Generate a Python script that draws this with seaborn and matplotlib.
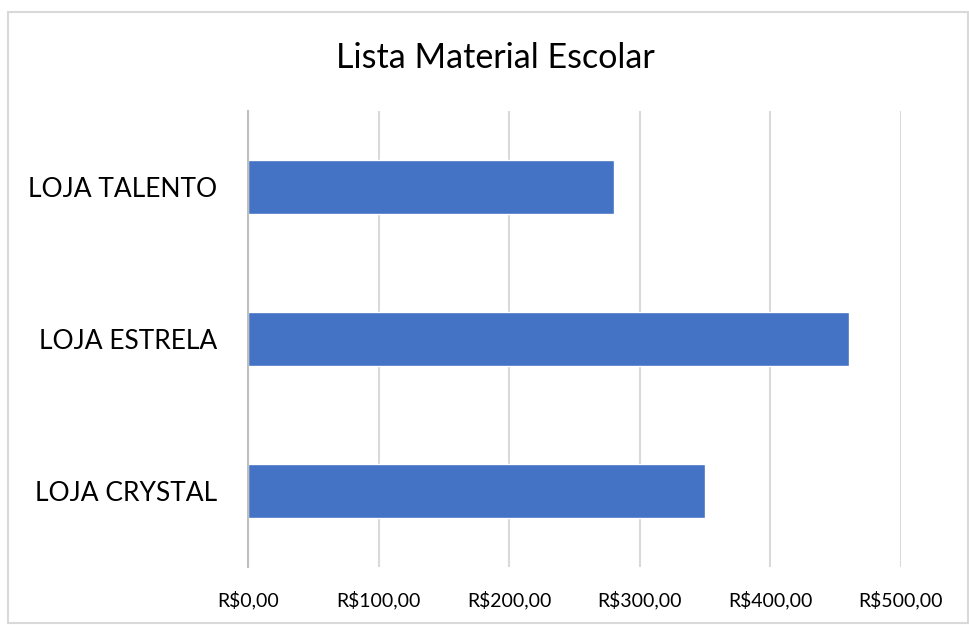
import matplotlib
matplotlib.use("Agg")
import matplotlib.pyplot as plt
import seaborn as sns
import pandas as pd
from matplotlib.patches import Rectangle

categories = ["LOJA TALENTO", "LOJA ESTRELA", "LOJA CRYSTAL"]
values = [280, 460, 350]
tick_values = [0, 100, 200, 300, 400, 500]
tick_labels = ["R$0,00", "R$100,00", "R$200,00", "R$300,00", "R$400,00", "R$500,00"]

sns.set_theme(style="white")
plt.rcParams['font.family'] = ['Lato', 'DejaVu Sans']

df = pd.DataFrame({"loja": categories, "valor": values})

fig = plt.figure(figsize=(9.7, 6.25), dpi=100)
fig.patch.set_facecolor("white")
fig.patches.append(Rectangle((8/970, 2/625), 960/970, 611/625, transform=fig.transFigure,
                             fill=False, edgecolor="#d9d9d9", linewidth=1.5))
ax = fig.add_axes([248/970, 58/625, 653/970, 456/625])

sns.barplot(data=df, y="loja", x="valor", orient="h", color="#4472C4", width=0.35,
            saturation=1, ax=ax)

ax.set_xlim(0, 500)
ax.set_ylim(2.5, -0.5)
ax.set_xticks(tick_values)
ax.set_xticklabels(tick_labels, fontsize=14, color="#000000")
ax.tick_params(axis="y", labelsize=19, colors="#000000", pad=22, length=0)
ax.tick_params(axis="x", pad=17, length=0)
ax.set_xlabel("")
ax.set_ylabel("")
ax.xaxis.grid(True, color="#d9d9d9", linewidth=1.5)
ax.set_axisbelow(True)
for s in ["top", "right", "bottom"]:
    ax.spines[s].set_visible(False)
ax.spines["left"].set_color("#bfbfbf")
ax.spines["left"].set_linewidth(1.5)

fig.text(495/970, 1 - 58/625, "Lista Material Escolar", ha="center", va="center",
         fontsize=24.5, color="#000000")

fig.savefig("out.png", dpi=100)
